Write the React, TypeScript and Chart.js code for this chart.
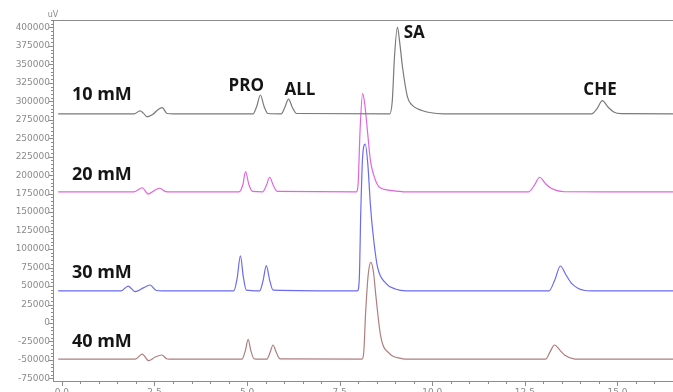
import React, { useEffect, useRef } from "react";
import { Chart, registerables } from "chart.js";

Chart.register(...registerables);

// ---- Axis ranges / ticks ----
const xMin = -0.24;
const xMax = 16.5;
const xMajorStep = 2.5;
const xMinorStep = 0.5;
const yMin = -78500;
const yMax = 410000;
const yMajorStep = 25000;
const yMinorStep = 5000;
const yUnit = "uV";

// ---- Series: 10 mM ----
const t10 = [-0.1, 1.95, 2.11, 2.2, 2.3, 2.45, 2.6, 2.71, 2.84, 3.0, 5.16, 5.26, 5.36, 5.46, 5.56, 5.92, 6.02, 6.12, 6.22, 6.34, 8.85, 8.92, 8.98, 9.06, 9.12, 9.2, 9.33, 9.45, 9.6, 9.97, 10.3, 14.3, 14.45, 14.59, 14.75, 14.9, 15.1, 16.5];
const v10 = [283000, 283000, 287000, 284000, 279000, 282000, 289000, 291300, 283500, 283000, 283000, 293000, 308500, 293000, 283500, 283000, 292000, 303000, 292000, 283500, 283000, 300000, 360000, 400500, 380000, 345000, 306000, 295000, 290000, 284500, 283000, 283000, 290000, 300800, 292000, 285500, 283200, 283000];

// ---- Series: 20 mM ----
const t20 = [-0.1, 1.95, 2.17, 2.33, 2.52, 2.65, 2.8, 2.95, 4.78, 4.88, 4.96, 5.05, 5.15, 5.42, 5.52, 5.61, 5.71, 5.82, 7.95, 8.0, 8.05, 8.12, 8.18, 8.25, 8.33, 8.42, 8.56, 8.88, 9.3, 12.6, 12.75, 12.9, 13.05, 13.21, 13.57, 16.5];
const v20 = [177500, 177500, 183000, 174500, 180000, 182300, 177800, 177500, 177500, 186000, 204700, 187000, 178000, 177500, 186000, 197200, 186000, 178000, 177500, 190000, 260000, 310800, 295000, 260000, 220000, 200000, 184400, 179500, 177500, 177500, 186000, 197200, 189000, 182300, 177600, 177500];

// ---- Series: 30 mM ----
const t30 = [-0.1, 1.6, 1.79, 1.98, 2.2, 2.38, 2.55, 2.7, 4.64, 4.73, 4.82, 4.9, 4.98, 5.34, 5.43, 5.52, 5.61, 5.7, 7.98, 8.03, 8.07, 8.12, 8.19, 8.26, 8.33, 8.39, 8.52, 8.75, 9.0, 9.3, 13.15, 13.3, 13.46, 13.6, 13.76, 14.12, 14.3, 16.5];
const v30 = [43500, 43500, 50000, 42400, 47500, 51400, 44000, 43500, 43500, 60000, 90700, 62000, 44500, 43500, 57000, 77500, 58000, 44500, 43500, 60000, 150000, 225000, 242200, 215000, 160000, 125800, 76200, 53700, 46000, 43500, 43500, 57000, 77100, 66000, 53700, 44000, 43500, 43500];

// ---- Series: 40 mM ----
const t40 = [-0.1, 1.98, 2.17, 2.34, 2.52, 2.7, 2.84, 3.0, 4.86, 4.95, 5.03, 5.1, 5.19, 5.53, 5.62, 5.7, 5.79, 5.89, 8.1, 8.15, 8.2, 8.27, 8.34, 8.41, 8.48, 8.61, 8.84, 9.15, 9.45, 13.06, 13.18, 13.3, 13.45, 13.57, 13.85, 14.0, 16.5];
const v40 = [-49000, -49000, -42000, -51000, -46000, -43300, -48700, -49000, -49000, -38000, -22100, -37000, -48500, -49000, -40000, -29800, -40000, -48600, -49000, -40000, 13100, 65000, 82100, 70000, 35600, -18500, -41000, -47800, -49000, -49000, -39000, -29800, -37000, -43300, -48800, -49000, -49000];

const seriesNames = ["10 mM", "20 mM", "30 mM", "40 mM"];
const seriesColors = ["#7a7a7a", "#e066e0", "#6b6bf0", "#b07e7e"];

// ---- Text annotations (data coordinates) ----
const sampleLabelX = [0.27, 0.27, 0.27, 0.27];
const sampleLabelY = [301700, 193500, 60900, -32500];
const peakNames = ["PRO", "ALL", "SA", "CHE"];
const peakLabelX = [4.5, 6.01, 9.23, 14.08];
const peakLabelY = [314000, 308500, 385700, 308500];

const axisColor = "#8c8c8c";
const tickFont = { family: "DejaVu Sans", size: 9 };

function stepTicks(min: number, max: number, step: number) {
  const out: { value: number }[] = [];
  for (let k = Math.ceil(min / step); k <= Math.floor(max / step); k++) out.push({ value: k * step });
  return out;
}

const decorPlugin = {
  id: "decor",
  afterDraw(chart: any) {
    const { ctx, chartArea, scales } = chart;
    const xs = scales.x;
    const ys = scales.y;
    ctx.save();
    ctx.strokeStyle = axisColor;
    ctx.lineWidth = 1;
    ctx.beginPath();
    ctx.moveTo(chartArea.left, chartArea.top + 0.5);
    ctx.lineTo(chartArea.right, chartArea.top + 0.5);
    const kx0 = Math.ceil(xs.min / xMinorStep);
    const kx1 = Math.floor(xs.max / xMinorStep);
    const xr = Math.round(xMajorStep / xMinorStep);
    for (let k = kx0; k <= kx1; k++) {
      const px = Math.round(xs.getPixelForValue(k * xMinorStep)) + 0.5;
      const len = k % xr === 0 ? 5 : 3;
      ctx.moveTo(px, chartArea.bottom);
      ctx.lineTo(px, chartArea.bottom + len);
    }
    const ky0 = Math.ceil(ys.min / yMinorStep);
    const ky1 = Math.floor(ys.max / yMinorStep);
    const yr = Math.round(yMajorStep / yMinorStep);
    for (let k = ky0; k <= ky1; k++) {
      const py = Math.round(ys.getPixelForValue(k * yMinorStep)) + 0.5;
      const len = k % yr === 0 ? 4 : 2;
      ctx.moveTo(chartArea.left - len, py);
      ctx.lineTo(chartArea.left, py);
    }
    ctx.stroke();
    ctx.fillStyle = "#888";
    ctx.font = "8px 'DejaVu Sans'";
    ctx.textAlign = "center";
    ctx.textBaseline = "alphabetic";
    ctx.fillText(yUnit, chartArea.left, chartArea.top - 3);

    ctx.fillStyle = "#151515";
    ctx.textAlign = "left";
    ctx.font = "bold 18px 'Open Sans'";
    for (let i = 0; i < seriesNames.length; i++) {
      ctx.fillText(seriesNames[i], xs.getPixelForValue(sampleLabelX[i]), ys.getPixelForValue(sampleLabelY[i]));
    }
    ctx.font = "bold 17px 'Open Sans'";
    for (let i = 0; i < peakNames.length; i++) {
      ctx.fillText(peakNames[i], xs.getPixelForValue(peakLabelX[i]), ys.getPixelForValue(peakLabelY[i]));
    }
    ctx.restore();
  },
};

export default function App() {
  const ref = useRef<HTMLCanvasElement>(null);
  useEffect(() => {
    document.body.style.margin = "0";
    const times = [t10, t20, t30, t40];
    const vals = [v10, v20, v30, v40];
    const chart = new Chart(ref.current!, {
      type: "line",
      data: {
        datasets: seriesNames.map((name, i) => ({
          label: name,
          data: times[i].map((t, j) => ({ x: t, y: vals[i][j] })),
          borderColor: seriesColors[i],
          borderWidth: 1.2,
          pointRadius: 0,
          fill: false,
          cubicInterpolationMode: "monotone" as const,
        })),
      },
      options: {
        responsive: false,
        animation: false,
        layout: { padding: { top: 20, left: 0, right: 0, bottom: 0 } },
        plugins: { legend: { display: false }, tooltip: { enabled: false } },
        scales: {
          x: {
            type: "linear",
            min: xMin,
            max: xMax,
            grid: { display: true, drawOnChartArea: false, drawTicks: false },
            border: { display: true, color: axisColor },
            afterBuildTicks: (s: any) => { s.ticks = stepTicks(xMin, xMax, xMajorStep); },
            ticks: {
              autoSkip: false,
              maxRotation: 0,
              padding: 6,
              color: "#8a8a8a",
              font: tickFont,
              callback: (v: any) => Number(v).toFixed(1),
            },
            afterFit: (s: any) => { s.height = 11; },
          },
          y: {
            type: "linear",
            min: yMin,
            max: yMax,
            grid: { display: true, drawOnChartArea: false, drawTicks: false },
            border: { display: true, color: axisColor },
            afterBuildTicks: (s: any) => { s.ticks = stepTicks(yMin, yMax, yMajorStep); },
            ticks: {
              autoSkip: false,
              padding: 3,
              color: "#8a8a8a",
              font: tickFont,
              callback: (v: any) => String(Math.round(Number(v))),
            },
            afterFit: (s: any) => { s.width = 53; },
          },
        },
      },
      plugins: [decorPlugin],
    });
    return () => chart.destroy();
  }, []);
  return <canvas ref={ref} width={673} height={392} style={{ display: "block" }} />;
}
